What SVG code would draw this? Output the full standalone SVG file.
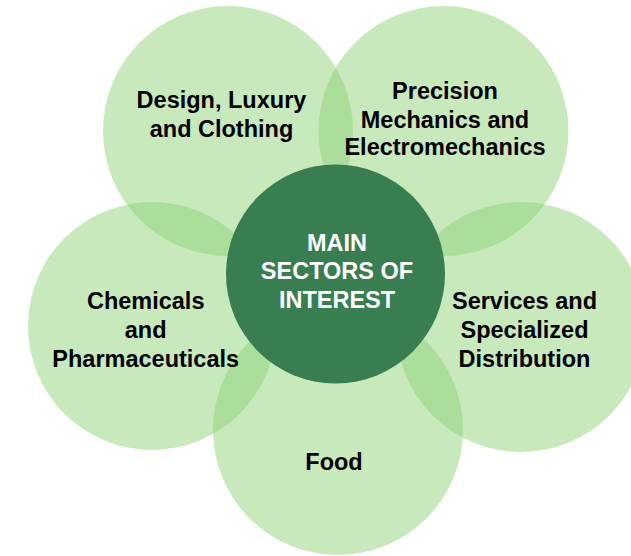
<svg xmlns="http://www.w3.org/2000/svg" width="631" height="556" viewBox="0 0 631 556">
<style>
.petal{fill:#8fd47a;fill-opacity:0.5}
.hub{fill:#387e50}
.lbl{font-family:"Liberation Sans",Arial,sans-serif;font-weight:bold;font-size:23.5px;text-anchor:middle;fill:#000}
.hubt{fill:#fff}
</style>
<rect width="631" height="556" fill="#fff"/>
<g id="node-design"><circle class="petal" cx="228" cy="131" r="125"/></g>
<g id="node-precision"><circle class="petal" cx="443.5" cy="131" r="125"/></g>
<g id="node-services"><circle class="petal" cx="521" cy="327" r="125"/></g>
<g id="node-food"><circle class="petal" cx="338" cy="430" r="125"/></g>
<g id="node-chemicals"><circle class="petal" cx="152" cy="326" r="124"/></g>
<g id="node-center"><circle class="hub" cx="335.5" cy="274" r="109.5"/>
<text class="lbl hubt" x="337" y="250.7">MAIN</text>
<text class="lbl hubt" x="337" y="279">SECTORS OF</text>
<text class="lbl hubt" x="337" y="307.7">INTEREST</text>
</g>
<g id="labels">
<text class="lbl" x="221.5" y="108.3">Design, Luxury</text>
<text class="lbl" x="221.5" y="136.7">and Clothing</text>
<text class="lbl" x="445" y="99">Precision</text>
<text class="lbl" x="445" y="127.7">Mechanics and</text>
<text class="lbl" x="445" y="155.3">Electromechanics</text>
<text class="lbl" x="524.5" y="309.3">Services and</text>
<text class="lbl" x="524.5" y="337.7">Specialized</text>
<text class="lbl" x="524.5" y="366.7">Distribution</text>
<text class="lbl" x="145.7" y="309">Chemicals</text>
<text class="lbl" x="145.7" y="338">and</text>
<text class="lbl" x="145.7" y="367">Pharmaceuticals</text>
<text class="lbl" x="334" y="470">Food</text>
</g>
<g id="connectors"></g>
</svg>
